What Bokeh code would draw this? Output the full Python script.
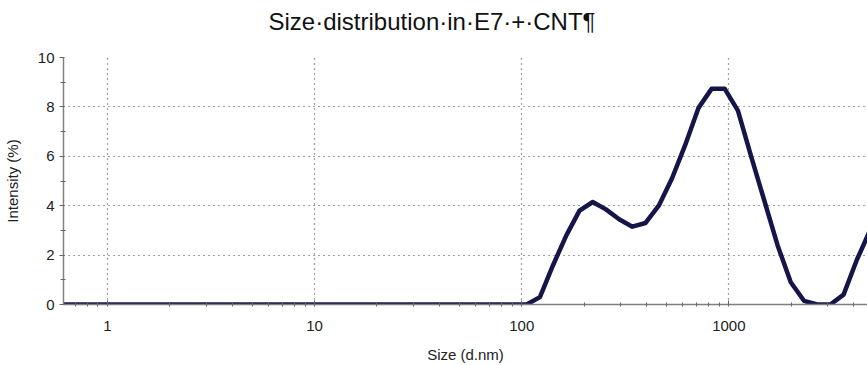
from bokeh.plotting import figure
from bokeh.models import FixedTicker, PrintfTickFormatter, Range1d, Title
from bokeh.embed import file_html
from bokeh.resources import INLINE

# Size bins (d.nm) and intensity (%)
sizes = [0.4, 0.4632, 0.5365, 0.6213, 0.7195, 0.8332, 0.9649, 1.117, 1.294, 1.499,
         1.736, 2.01, 2.33, 2.696, 3.122, 3.615, 4.187, 4.849, 5.615, 6.503,
         7.531, 8.721, 10.1, 11.7, 13.54, 15.69, 18.17, 21.04, 24.36, 28.21,
         32.67, 37.84, 43.82, 50.75, 58.77, 68.06, 78.82, 91.28, 105.7, 122.4,
         141.8, 164.2, 190.1, 220.2, 255.0, 295.3, 342.0, 396.1, 458.7, 531.2,
         615.1, 712.4, 825.0, 955.4, 1106, 1281, 1484, 1718, 1990, 2305,
         2669, 3091, 3580, 4145, 4801, 5560]
intensity = [0]*38 + [0.0, 0.3,
             1.6, 2.8, 3.8, 4.15, 3.85, 3.45, 3.15, 3.3, 4.0, 5.1,
             6.45, 7.95, 8.73, 8.73, 7.85, 6.0, 4.2, 2.4, 0.9, 0.15,
             0.0, 0.0, 0.4, 1.8, 3.0, 4.3]

x_ticks = [1, 10, 100, 1000]
y_ticks = [0, 2, 4, 6, 8, 10]
y_minor = [1, 3, 5, 7, 9]
title_text = "Size\u00b7distribution\u00b7in\u00b7E7\u00b7+\u00b7CNT\u00b6"

FONT = "Liberation Sans"

p = figure(width=867, height=365, x_axis_type="log", output_backend="svg",
           toolbar_location=None,
           x_range=Range1d(0.6135, 4670), y_range=Range1d(0, 10),
           min_border_left=62, min_border_right=0, min_border_top=57,
           min_border_bottom=61)
p.outline_line_color = None
p.background_fill_color = "white"

# invisible spacer between frame and title
spacer = Title(text=" ", text_font=FONT, text_font_size="5px", text_color="white")
p.add_layout(spacer, "above")

t = Title(text=title_text, align="left", text_font=FONT,
          text_font_size="24px", text_font_style="normal", text_color="#111111",
          offset=205)
p.add_layout(t, "above")

p.line(sizes, intensity, line_color="#15154a", line_width=4.5, line_join="round")

# axes
for ax in (p.xaxis[0], p.yaxis[0]):
    ax.axis_line_color = "#808080"
    ax.axis_line_width = 1.5
    ax.major_tick_line_color = "#666666"
    ax.minor_tick_line_color = "#666666"
    ax.major_label_text_font = FONT
    ax.major_label_text_font_size = "15px"
    ax.major_label_text_color = "#222222"
    ax.axis_label_text_font = FONT
    ax.axis_label_text_font_size = "15px"
    ax.axis_label_text_font_style = "normal"
    ax.axis_label_text_color = "#222222"

xa = p.xaxis[0]
xa.ticker = FixedTicker(ticks=x_ticks,
                        minor_ticks=[m * 10.0 ** e for e in range(-1, 4) for m in range(2, 10)])
xa.formatter = PrintfTickFormatter(format="%d")
xa.major_tick_in = 4
xa.major_tick_out = 2
xa.minor_tick_in = 2
xa.minor_tick_out = 2
xa.major_label_standoff = 14
xa.axis_label = "Size (d.nm)"
xa.axis_label_standoff = 12

ya = p.yaxis[0]
ya.ticker = FixedTicker(ticks=y_ticks, minor_ticks=y_minor)
ya.major_tick_in = 1
ya.major_tick_out = 4
ya.minor_tick_in = 2
ya.minor_tick_out = 3
ya.major_label_standoff = 5
ya.axis_label = "Intensity (%)"
ya.axis_label_standoff = 14

for g in (p.xgrid[0], p.ygrid[0]):
    g.grid_line_color = "#444444"
    g.grid_line_dash = "1 4"
    g.grid_line_width = 1.2

open("out.html", "w").write(file_html(p, INLINE))
